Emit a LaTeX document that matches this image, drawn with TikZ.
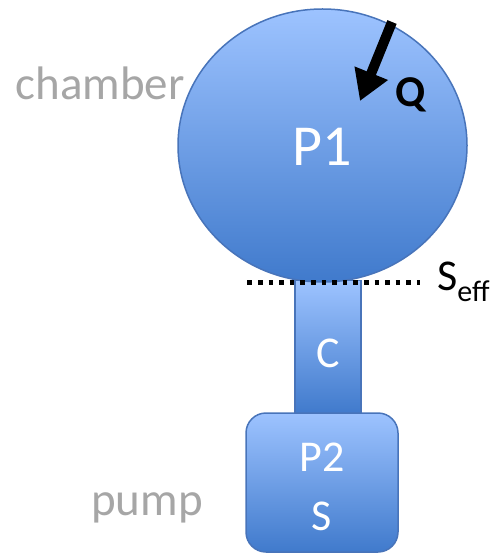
\documentclass[tikz,border=0pt]{standalone}
\usepackage{fontspec}
\setmainfont{Carlito}
\usetikzlibrary{arrows.meta,shapes.geometric}
\definecolor{lightb}{RGB}{157,195,255}
\definecolor{darkb}{RGB}{64,122,204}
\definecolor{edgeb}{RGB}{72,116,186}
\definecolor{greyt}{RGB}{166,166,166}
\tikzset{
  vessel/.style={draw=edgeb, line width=1.5pt, top color=lightb, bottom color=darkb, inner sep=0pt},
  whitetext/.style={text=white, font=\fontsize{44}{44}\selectfont, inner sep=0pt},
  greylabel/.style={text=greyt, font=\fontsize{47}{47}\selectfont, inner sep=0pt},
}
\begin{document}
\begin{tikzpicture}[x=1pt,y=-1pt]
\useasboundingbox (0,0) rectangle (495,553);
% tube (conductance)
\node[vessel, rectangle, minimum width=66pt, minimum height=133pt] (tube) at (328,347) {};
% pump box
\node[vessel, rectangle, rounded corners=20pt, minimum width=152pt, minimum height=139pt] (pump) at (322,482.5) {};
% chamber
\node[vessel, ellipse, minimum width=289pt, minimum height=273pt] (chamber) at (322.5,145.5) {};
% texts
\node[whitetext, font=\fontsize{58}{58}\selectfont] (p1) at (322,147) {P1};
\node[whitetext] (c) at (328,353) {C};
\node[whitetext] (p2) at (322,457) {P2};
\node[whitetext] (s) at (322,516) {S};
\node[greylabel, anchor=base] (chl) at (100,100) {chamber};
\node[greylabel, anchor=base] (pul) at (147,515) {pump};
% Q arrow
\coordinate (qs) at (392,22);
\coordinate (qe) at (360,101);
\draw[line width=10pt, -{Triangle[width=34pt,length=30pt]}] (qs) -- (qe);
\node[anchor=base, font=\bfseries\fontsize{44}{44}\selectfont, inner sep=0pt] (q) at (410.5,107) {Q};
% effective pumping speed plane
\coordinate (dl) at (247.3,282.5);
\coordinate (dr) at (420,282.5);
\draw[line width=4.7pt, dash pattern=on 4.7pt off 5.9pt] (dl) -- (dr);
\node[anchor=base west, inner sep=0pt, font=\fontsize{44}{44}\selectfont] (seff) at (437,290) {S{\fontsize{30}{30}\selectfont\raisebox{-11pt}{eff}}};
\end{tikzpicture}
\end{document}
